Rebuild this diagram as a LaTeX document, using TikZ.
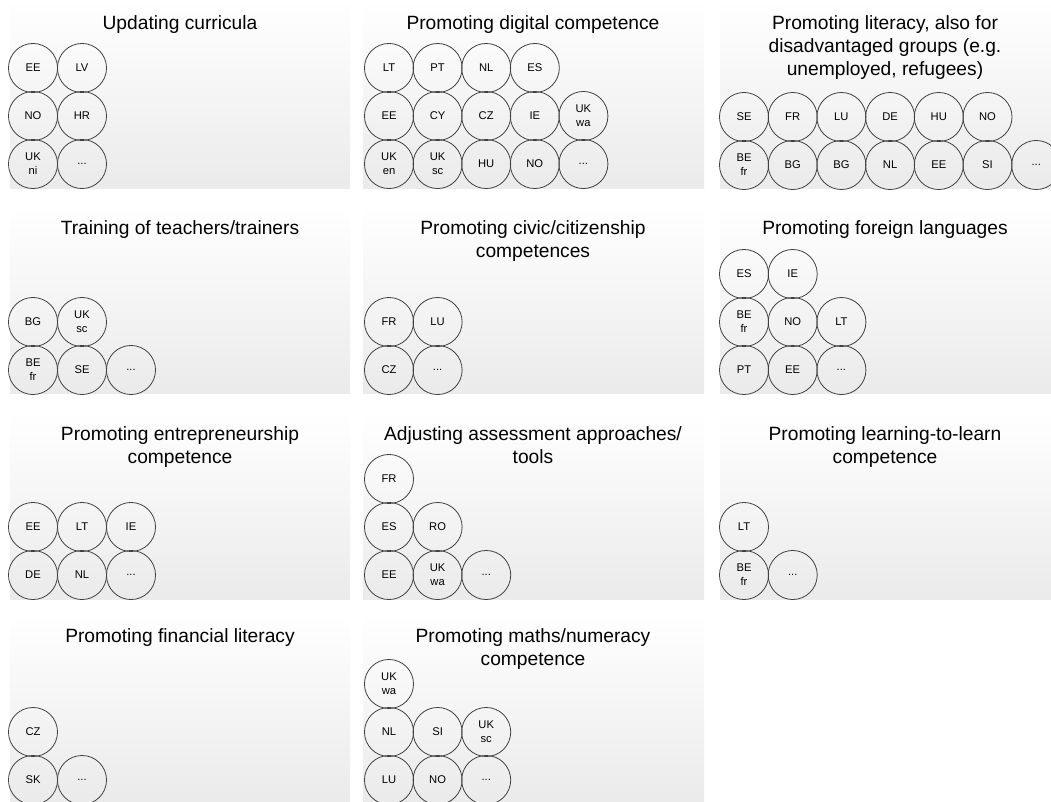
\documentclass[tikz,border=0pt]{standalone}
\usepackage{fontspec}
\setmainfont{Liberation Sans}
\begin{document}
\begin{tikzpicture}[x=0.75pt,y=-0.75pt]
        \tikzstyle{panel}=[top color=white,middle color=black!2,bottom color=black!8,draw=none]
        \tikzstyle{title}=[anchor=north,inner sep=0pt,align=center,font=\fontsize{14.4}{17.5}\selectfont]
        \tikzstyle{country}=[circle,draw=black!75,line width=0.6pt,minimum size=36.8pt,inner sep=0pt,align=center,font=\fontsize{8.4}{10.5}\selectfont]
        \useasboundingbox (0,0) rectangle (1051,801);
        % panels
        \shade[panel] (10,0) rectangle (350,188);
        \shade[panel] (363,0) rectangle (704,188);
        \shade[panel] (720,0) rectangle (1051,188);
        \shade[panel] (10,205) rectangle (350,393);
        \shade[panel] (363,205) rectangle (704,393);
        \shade[panel] (720,205) rectangle (1051,393);
        \shade[panel] (10,411) rectangle (350,599);
        \shade[panel] (363,411) rectangle (704,599);
        \shade[panel] (720,411) rectangle (1051,599);
        \shade[panel] (10,613) rectangle (350,801);
        \shade[panel] (363,613) rectangle (704,801);
        % titles
        \node [title] (curT) at (180,15) {Updating curricula};
        \node [title] (digT) at (533,15) {Promoting digital competence};
        \node [title] (litT) at (885,15) {Promoting literacy, also for\\disadvantaged groups (e.g.\\unemployed, refugees)};
        \node [title] (traT) at (180,220) {Training of teachers/trainers};
        \node [title] (civT) at (533,220) {Promoting civic/citizenship\\competences};
        \node [title] (lanT) at (885,220) {Promoting foreign languages};
        \node [title] (entT) at (180,426) {Promoting entrepreneurship\\competence};
        \node [title] (assT) at (533,426) {Adjusting assessment approaches/\\tools};
        \node [title] (ltlT) at (885,426) {Promoting learning-to-learn\\competence};
        \node [title] (finT) at (180,628) {Promoting financial literacy};
        \node [title] (matT) at (533,628) {Promoting maths/numeracy\\competence};
        % updating curricula
        \node [country] (cur1) at (33,68) {EE};
        \node [country] (cur2) at (82,68) {LV};
        \node [country] (cur3) at (33,116) {NO};
        \node [country] (cur4) at (82,116) {HR};
        \node [country] (cur5) at (33,164) {UK\\ni};
        \node [country] (cur6) at (82,164) {...};
        % digital competence
        \node [country] (dig1) at (389,68) {LT};
        \node [country] (dig2) at (437.6,68) {PT};
        \node [country] (dig3) at (486.2,68) {NL};
        \node [country] (dig4) at (534.8,68) {ES};
        \node [country] (dig5) at (389,116) {EE};
        \node [country] (dig6) at (437.6,116) {CY};
        \node [country] (dig7) at (486.2,116) {CZ};
        \node [country] (dig8) at (534.8,116) {IE};
        \node [country] (dig9) at (583.4,116) {UK\\wa};
        \node [country] (dig10) at (389,164) {UK\\en};
        \node [country] (dig11) at (437.6,164) {UK\\sc};
        \node [country] (dig12) at (486.2,164) {HU};
        \node [country] (dig13) at (534.8,164) {NO};
        \node [country] (dig14) at (583.4,164) {...};
        % literacy
        \node [country] (lit1) at (744,117) {SE};
        \node [country] (lit2) at (792.7,117) {FR};
        \node [country] (lit3) at (841.4,117) {LU};
        \node [country] (lit4) at (890.1,117) {DE};
        \node [country] (lit5) at (938.8,117) {HU};
        \node [country] (lit6) at (987.5,117) {NO};
        \node [country] (lit7) at (744,165) {BE\\fr};
        \node [country] (lit8) at (792.7,165) {BG};
        \node [country] (lit9) at (841.4,165) {BG};
        \node [country] (lit10) at (890.1,165) {NL};
        \node [country] (lit11) at (938.8,165) {EE};
        \node [country] (lit12) at (987.5,165) {SI};
        \node [country] (lit13) at (1036.2,165) {...};
        % teachers/trainers
        \node [country] (tra1) at (33,322) {BG};
        \node [country] (tra2) at (82,322) {UK\\sc};
        \node [country] (tra3) at (33,370) {BE\\fr};
        \node [country] (tra4) at (82,370) {SE};
        \node [country] (tra5) at (131,370) {...};
        % civic/citizenship
        \node [country] (civ1) at (389,322) {FR};
        \node [country] (civ2) at (437.6,322) {LU};
        \node [country] (civ3) at (389,370) {CZ};
        \node [country] (civ4) at (437.6,370) {...};
        % foreign languages
        \node [country] (lan1) at (744,274) {ES};
        \node [country] (lan2) at (792.7,274) {IE};
        \node [country] (lan3) at (744,322) {BE\\fr};
        \node [country] (lan4) at (792.7,322) {NO};
        \node [country] (lan5) at (841.4,322) {LT};
        \node [country] (lan6) at (744,370) {PT};
        \node [country] (lan7) at (792.7,370) {EE};
        \node [country] (lan8) at (841.4,370) {...};
        % entrepreneurship
        \node [country] (ent1) at (33,527) {EE};
        \node [country] (ent2) at (82,527) {LT};
        \node [country] (ent3) at (131,527) {IE};
        \node [country] (ent4) at (33,575) {DE};
        \node [country] (ent5) at (82,575) {NL};
        \node [country] (ent6) at (131,575) {...};
        % assessment
        \node [country] (ass1) at (389,479) {FR};
        \node [country] (ass2) at (389,527) {ES};
        \node [country] (ass3) at (437.6,527) {RO};
        \node [country] (ass4) at (389,575) {EE};
        \node [country] (ass5) at (437.6,575) {UK\\wa};
        \node [country] (ass6) at (486.2,575) {...};
        % learning-to-learn
        \node [country] (ltl1) at (744,527) {LT};
        \node [country] (ltl2) at (744,575) {BE\\fr};
        \node [country] (ltl3) at (792.7,575) {...};
        % financial literacy
        \node [country] (fin1) at (33,732) {CZ};
        \node [country] (fin2) at (33,780) {SK};
        \node [country] (fin3) at (82,780) {...};
        % maths/numeracy
        \node [country] (mat1) at (389,684) {UK\\wa};
        \node [country] (mat2) at (389,732) {NL};
        \node [country] (mat3) at (437.6,732) {SI};
        \node [country] (mat4) at (486.2,732) {UK\\sc};
        \node [country] (mat5) at (389,780) {LU};
        \node [country] (mat6) at (437.6,780) {NO};
        \node [country] (mat7) at (486.2,780) {...};
\end{tikzpicture}
\end{document}
